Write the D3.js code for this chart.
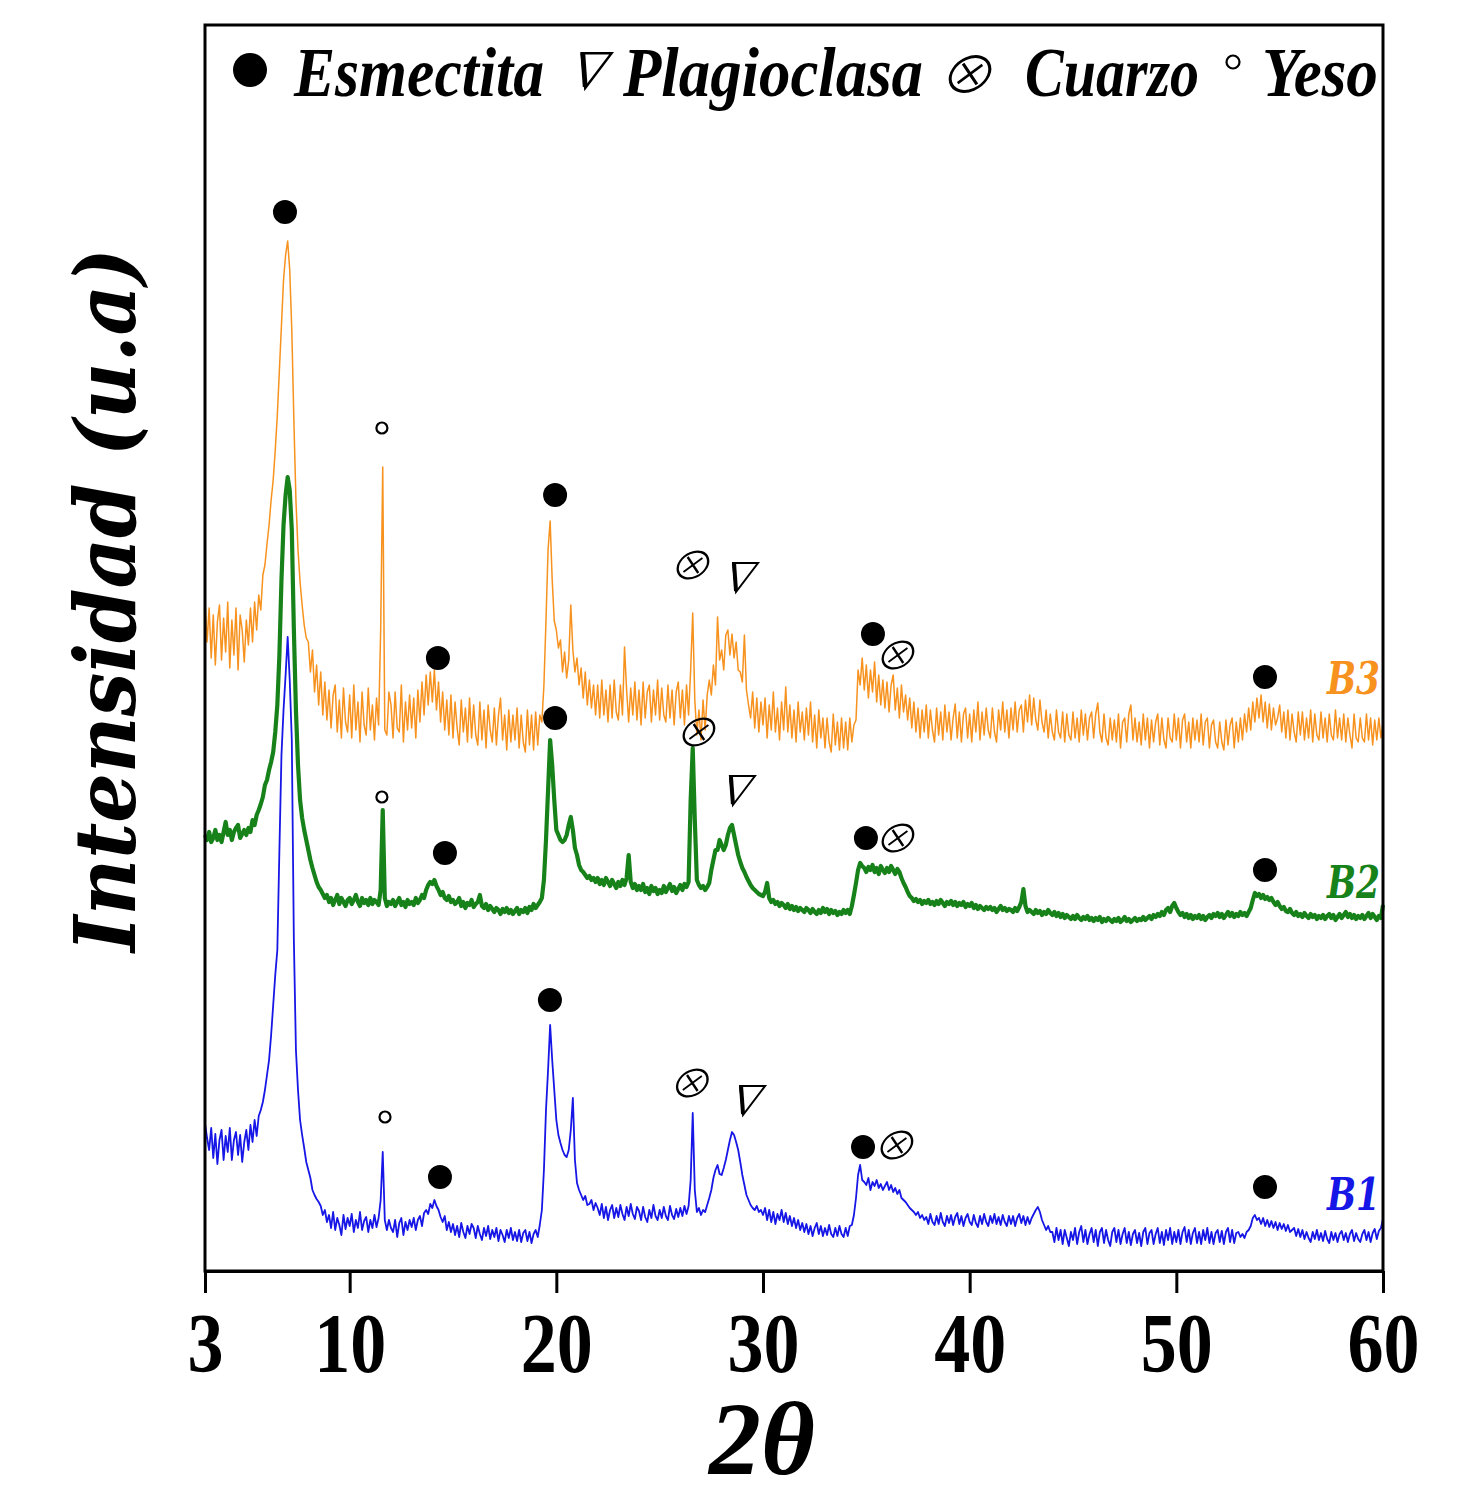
<!DOCTYPE html>
<html>
<head>
<meta charset="utf-8">
<script src="https://cdn.jsdelivr.net/npm/d3@7"></script>
<style>
  body { margin: 0; background: #fff; }
</style>
</head>
<body>
<div id="chart"></div>
<script>
// scan: 2theta start and step, one intensity per step
var thetaStart = 3;
var thetaStep = 0.1;

var b3Values = [
  670, 628, 662, 612, 655, 605, 648, 665, 610, 652,
  618, 668, 602, 650, 615, 662, 600, 655, 640, 608,
  650, 625, 662, 628, 668, 640, 675, 660, 695, 705,
  726, 745, 770, 790, 820, 855, 900, 945, 990, 1015,
  1029, 1000, 940, 850, 770, 720, 688, 665, 645, 632,
  628, 598, 620, 578, 605, 565, 598, 555, 588, 550,
  580, 542, 575, 585, 538, 570, 532, 582, 548, 538,
  575, 532, 585, 540, 568, 528, 578, 545, 535, 582,
  540, 565, 530, 572, 545, 640, 803, 540, 535, 578,
  565, 532, 578, 542, 538, 585, 528, 568, 540, 575,
  542, 572, 532, 580, 548, 588, 555, 595, 565, 598,
  568, 600, 560, 588, 548, 578, 540, 570, 535, 575,
  532, 568, 542, 525, 570, 538, 562, 528, 572, 532,
  565, 535, 525, 568, 530, 560, 522, 565, 540, 528,
  562, 525, 555, 572, 530, 555, 520, 560, 528, 555,
  530, 562, 522, 555, 528, 518, 560, 525, 555, 520,
  558, 525, 555, 548, 585, 650, 720, 749, 690, 649,
  640, 622, 630, 598, 618, 592, 610, 665, 620, 598,
  612, 585, 602, 572, 598, 565, 590, 562, 585, 555,
  585, 552, 590, 555, 580, 548, 585, 552, 590, 558,
  550, 585, 555, 623, 580, 548, 582, 555, 588, 550,
  580, 545, 588, 552, 578, 585, 548, 580, 555, 590,
  550, 582, 555, 548, 585, 552, 580, 545, 578, 588,
  552, 580, 545, 585, 555, 600, 657, 570, 535, 560,
  530, 570, 540, 575, 590, 575, 605, 585, 653, 610,
  620, 600, 635, 640, 615, 636, 612, 628, 600, 598,
  588, 635, 580, 565, 552, 578, 542, 572, 538, 568,
  545, 572, 532, 565, 540, 578, 538, 562, 530, 568,
  540, 583, 538, 565, 532, 560, 528, 568, 538, 558,
  530, 562, 535, 568, 528, 555, 522, 560, 532, 552,
  522, 552, 528, 518, 556, 525, 548, 520, 552, 522,
  548, 520, 552, 528, 545, 550, 600, 585, 612, 580,
  605, 572, 600, 578, 608, 568, 595, 565, 590, 562,
  588, 558, 585, 595, 560, 582, 552, 585, 558, 575,
  550, 572, 542, 568, 538, 562, 532, 560, 538, 565,
  532, 560, 540, 528, 562, 535, 558, 530, 565, 538,
  558, 530, 552, 566, 532, 558, 528, 556, 562, 532,
  556, 528, 560, 538, 568, 530, 558, 535, 562, 540,
  532, 562, 538, 528, 560, 540, 568, 538, 560, 532,
  562, 540, 568, 538, 560, 565, 538, 570, 548, 575,
  545, 572, 550, 540, 570, 548, 538, 560, 532, 556,
  538, 530, 560, 538, 532, 558, 528, 556, 535, 530,
  558, 532, 552, 528, 560, 535, 556, 530, 552, 558,
  532, 556, 567, 538, 528, 556, 532, 525, 552, 530,
  550, 528, 556, 522, 548, 552, 528, 556, 565, 530,
  552, 528, 548, 525, 556, 530, 552, 522, 550, 528,
  548, 556, 525, 552, 530, 522, 552, 532, 528, 556,
  530, 552, 522, 550, 556, 528, 548, 522, 552, 530,
  550, 528, 556, 525, 548, 552, 522, 545, 550, 528,
  522, 548, 528, 520, 550, 525, 545, 552, 522, 548,
  528, 552, 530, 556, 538, 562, 540, 568, 548, 572,
  552, 575, 548, 568, 542, 566, 540, 562, 545, 552,
  565, 538, 558, 532, 560, 530, 556, 538, 528, 558,
  535, 558, 530, 552, 532, 560, 528, 556, 535, 530,
  558, 532, 552, 528, 556, 535, 530, 560, 532, 552,
  530, 556, 528, 552, 535, 522, 556, 532, 528, 552,
  532, 528, 556, 530, 552, 525, 550, 530, 552, 532,
  548
];

var b2Values = [
  435, 430, 438, 428, 432, 440, 430, 435, 428, 438,
  448, 435, 440, 430, 438, 442, 445, 432, 436, 440,
  435, 442, 438, 450, 445, 455, 460, 466, 473, 485,
  490, 500, 508, 518, 538, 565, 615, 690, 745, 775,
  793, 780, 740, 640, 560, 505, 470, 452, 440, 430,
  420, 410, 402, 395, 388, 383, 380, 376, 372, 375,
  368, 372, 365, 370, 375, 366, 372, 368, 364, 370,
  372, 366, 370, 375, 368, 364, 372, 367, 370, 365,
  372, 366, 370, 368, 365, 380, 460, 372, 364, 368,
  366, 370, 364, 368, 372, 365, 368, 363, 370, 366,
  368, 365, 372, 367, 370, 375, 372, 380, 385, 388,
  386, 390, 384, 380, 375, 378, 372, 370, 374, 368,
  370, 366, 368, 372, 364, 368, 362, 367, 365, 370,
  363, 366, 368, 375, 364, 362, 366, 360, 364, 361,
  358, 362, 360, 356, 361, 358, 362, 357, 360, 356,
  359, 362, 356, 360, 358, 362, 357, 363, 360, 366,
  362, 365, 368, 372, 390, 430, 480, 530, 505, 470,
  440, 435, 430, 428, 430, 435, 445, 453, 440, 422,
  415, 405, 400, 398, 395, 392, 394, 390, 392, 388,
  392, 386, 390, 385, 392, 388, 384, 390, 386, 382,
  388, 384, 390, 385, 392, 415, 388, 382, 386, 380,
  384, 380, 386, 378, 382, 376, 384, 379, 382, 376,
  380, 377, 384, 378, 382, 386, 379, 383, 377, 381,
  385, 380, 386, 383, 388, 470, 522, 450, 390, 385,
  382, 384, 380, 383, 387, 400, 410, 420, 420, 430,
  425, 420, 425, 435, 442, 445, 435, 425, 415, 408,
  402, 398, 393, 389, 385, 382, 380, 378, 376, 375,
  374, 378, 387, 372, 368, 370, 366, 368, 364, 367,
  365, 362, 366, 361, 364, 360, 363, 359, 362, 360,
  358, 362, 360, 357, 361, 358, 356, 360, 357, 362,
  358, 361, 356, 360, 357, 359, 355, 358, 356, 360,
  357, 360, 356, 364, 375, 387, 400, 407, 404, 402,
  398, 403, 400, 405, 398, 402, 396, 404, 400, 397,
  402, 398, 404, 400, 396, 401, 398, 392, 387, 383,
  378, 374, 372, 369, 371, 368, 370, 366, 369, 367,
  370, 366, 368, 365, 369, 366, 370, 367, 364, 368,
  366, 369, 365, 368, 364, 367, 365, 368, 363, 366,
  364, 367, 362, 365, 361, 364, 362, 360, 363, 361,
  363, 360, 362, 358, 361, 364, 360, 362, 359, 361,
  360, 358, 362, 359, 363, 368, 381, 364, 358, 360,
  358, 356, 360, 357, 359, 355, 358, 356, 360, 357,
  355, 358, 354, 357, 353, 356, 352, 355, 353, 351,
  354, 351, 355, 352, 350, 353, 351, 354, 350, 352,
  349, 352, 350, 353, 348, 351, 349, 352, 350, 348,
  351, 349, 352, 348, 350, 353, 349, 351, 348, 350,
  352, 349, 351, 350, 353, 350, 352, 354, 351, 355,
  353, 356, 354, 358, 355, 360, 362, 358, 364, 367,
  362, 358, 355, 357, 353, 356, 352, 355, 351, 354,
  352, 355, 351, 354, 350, 353, 355, 352, 356, 354,
  357, 353, 356, 352, 355, 358, 354, 357, 353, 356,
  354, 358, 355, 357, 354, 358, 362, 370, 377, 374,
  376, 372, 375, 371, 373, 370, 372, 368, 365, 368,
  364, 361, 363, 359, 358, 361, 357, 355, 358, 354,
  356, 353, 357, 354, 352, 356, 353, 355, 351, 354,
  352, 355, 351, 354, 356, 352, 355, 350, 353, 356,
  352, 355, 358, 353, 356, 352, 355, 351, 354, 352,
  355, 351, 354, 357, 352, 356, 353, 350, 354, 352,
  365
];

var b1Values = [
  147, 132, 120, 142, 112, 136, 106, 130, 140, 110,
  134, 118, 142, 110, 130, 138, 115, 135, 108, 128,
  140, 120, 145, 128, 150, 134, 154, 160, 168, 180,
  195, 210, 235, 265, 295, 320, 420, 515, 560, 595,
  633, 590, 530, 330, 220, 180, 150, 135, 122, 108,
  100, 92, 80, 75, 71, 68, 64, 55, 60, 48,
  55, 42, 58, 40, 52, 45, 35, 55, 41, 52,
  44, 56, 38, 50, 42, 58, 40, 49, 53, 38,
  50, 42, 55, 43, 52, 70, 118, 50, 40, 50,
  42, 38, 50, 33, 47, 52, 35, 48, 40, 50,
  43, 52, 40, 50, 54, 44, 57, 60, 56, 66,
  62, 70, 64, 60, 53, 48, 54, 40, 48, 38,
  46, 35, 44, 33, 47, 38, 32, 44, 36, 46,
  42, 32, 44, 36, 30, 42, 34, 44, 31, 40,
  33, 42, 29, 40, 35, 28, 40, 32, 42, 30,
  38, 29, 40, 28, 37, 40, 29, 38, 27, 36,
  40, 33, 45, 60, 100, 160, 200, 245, 210, 180,
  150, 135, 127, 120, 115, 113, 120, 140, 172, 110,
  87, 80, 75, 70, 74, 65, 66, 70, 60, 67,
  62, 55, 66, 52, 63, 50, 60, 65, 52, 62,
  53, 65, 56, 50, 63, 54, 66, 56, 51, 63,
  59, 50, 63, 53, 48, 60, 52, 65, 54, 50,
  60, 52, 63, 54, 50, 64, 55, 51, 61, 53,
  62, 54, 64, 56, 64, 90, 157, 80, 58, 62,
  55, 60, 58, 65, 72, 80, 92, 100, 105, 96,
  95, 102, 110, 120, 130, 138, 135, 128, 120, 108,
  95, 85, 75, 70, 65, 62, 60, 64, 58, 60,
  55, 62, 50, 60, 48, 58, 46, 56, 50, 60,
  48, 57, 46, 54, 44, 52, 42, 50, 40, 47,
  38, 46, 36, 44, 34, 42, 47, 36, 44, 34,
  42, 35, 45, 36, 33, 42, 34, 44, 36, 33,
  42, 34, 44, 45, 55, 72, 95, 105, 90, 88,
  85, 92, 80, 88, 84, 90, 82, 86, 80, 84,
  88, 80, 85, 78, 82, 76, 80, 72, 70, 68,
  65, 62, 60, 58, 55, 58, 52, 55, 50, 53,
  46, 56, 48, 45, 54, 46, 57, 48, 44, 54,
  47, 55, 45, 53, 57, 46, 54, 44, 52, 56,
  48, 45, 55, 47, 43, 54, 46, 56, 48, 44,
  54, 47, 56, 46, 53, 45, 55, 48, 44, 54,
  46, 54, 44, 52, 56, 47, 54, 45, 53, 46,
  52, 56, 60, 63, 58, 50, 45, 40, 44, 38,
  38, 28, 42, 30, 40, 26, 40, 32, 24, 38,
  30, 42, 26, 38, 44, 28, 40, 26, 36, 42,
  28, 40, 24, 38, 42, 27, 40, 30, 24, 38,
  42, 28, 40, 26, 36, 42, 27, 38, 25, 36,
  40, 27, 37, 24, 38, 42, 26, 37, 40, 26,
  36, 42, 27, 38, 25, 40, 30, 42, 26, 38,
  28, 40, 26, 38, 43, 28, 40, 26, 37, 42,
  27, 38, 26, 40, 30, 42, 27, 38, 26, 37,
  40, 28, 39, 26, 38, 42, 28, 40, 27, 37,
  38, 33, 36, 32, 38, 40, 44, 52, 55, 50,
  52, 46, 52, 44, 50, 43, 49, 42, 48, 40,
  47, 41, 46, 39, 45, 38, 40, 42, 34, 41,
  33, 40, 31, 38, 32, 28, 38, 31, 40, 30,
  37, 29, 39, 31, 27, 38, 30, 37, 28, 36,
  39, 30, 37, 28, 36, 40, 29, 37, 31, 28,
  36, 40, 30, 38, 28, 37, 41, 31, 39, 42,
  51
];

var seriesNames = ["B3", "B2", "B1"];
var tickValues = [3, 10, 20, 30, 40, 50, 60];
var legendNames = ["Esmectita", "Plagioclasa", "Cuarzo", "Yeso"];

// peak marks [2theta, intensity]
var esmectitaPeaks = [[6.87, 1058], [19.94, 775], [14.27, 612], [35.32, 636], [54.29, 593],
  [19.94, 552], [14.61, 417], [34.98, 432], [54.29, 400],
  [19.69, 270], [14.37, 93], [34.84, 123], [54.29, 83]];
var yesoPeaks = [[11.56, 842], [11.56, 473], [11.71, 153]];
var cuarzoPeaks = [[26.61, 705], [36.53, 615], [26.9, 538], [36.53, 432], [26.58, 187], [36.48, 125]];
var plagioclasaPeaks = [[29.13, 693], [28.98, 480], [29.47, 170]];

var width = 1478, height = 1489;
var frame = {left: 205, right: 1383, top: 25, bottom: 1271};

var svg = d3.select("#chart").append("svg")
    .attr("width", width)
    .attr("height", height);

var x = d3.scaleLinear().domain([3, 60]).range([frame.left, frame.right]);
var y = d3.scaleLinear().domain([0, 1245]).range([1270, 25]);

function theta(i) { return thetaStart + i * thetaStep; }

var line = d3.line()
    .x((d, i) => x(theta(i)))
    .y(d => y(d));

var series = [
  {name: seriesNames[0], values: b3Values, color: "#F7921E", stroke: 1.5, labelY: 576},
  {name: seriesNames[1], values: b2Values, color: "#17821A", stroke: 4.2, labelY: 372},
  {name: seriesNames[2], values: b1Values, color: "#1616E6", stroke: 1.8, labelY: 60}
];

svg.selectAll("path.trace")
    .data(series)
    .enter()
    .append("path")
    .attr("class", "trace")
    .attr("d", d => line(d.values))
    .attr("fill", "none")
    .attr("stroke", d => d.color)
    .attr("stroke-width", d => d.stroke)
    .attr("stroke-linejoin", "round");

svg.selectAll("text.seriesLabel")
    .data(series)
    .enter()
    .append("text")
    .attr("class", "seriesLabel")
    .attr("x", x(60) - 3)
    .attr("y", d => y(d.labelY))
    .attr("text-anchor", "end")
    .attr("font-family", "DejaVu Serif")
    .attr("font-weight", "bold")
    .attr("font-style", "italic")
    .attr("font-size", 44)
    .attr("textLength", 53)
    .attr("lengthAdjust", "spacingAndGlyphs")
    .attr("fill", d => d.color)
    .text(d => d.name);

// symbol shapes
function drawEsmectita(sel, r) {
  sel.append("circle").attr("r", r).attr("fill", "#000");
}
function drawYeso(sel, r) {
  sel.append("circle").attr("r", r).attr("fill", "none").attr("stroke", "#000").attr("stroke-width", 2.2);
}
function drawCuarzo(sel) {
  var g = sel.append("g").attr("transform", "skewX(-12)");
  g.append("ellipse").attr("rx", 15).attr("ry", 13).attr("transform", "rotate(-25)")
    .attr("fill", "none").attr("stroke", "#000").attr("stroke-width", 2.3);
  g.append("path").attr("d", "M-7,-8L7,8M-8,7L8,-7")
    .attr("stroke", "#000").attr("stroke-width", 2.2);
}
function drawPlagioclasa(sel) {
  sel.append("path").attr("d", "M-12,-14L13,-14L-9,15Z")
    .attr("fill", "none").attr("stroke", "#000").attr("stroke-width", 2).attr("stroke-linejoin", "miter");
  sel.append("path").attr("d", "M-11,-14L-9,14")
    .attr("stroke", "#000").attr("stroke-width", 4);
}

var marks = svg.append("g").attr("class", "marks");

marks.selectAll("g.esm").data(esmectitaPeaks).enter().append("g").attr("class", "esm")
    .attr("transform", d => `translate(${x(d[0])},${y(d[1])})`)
    .each(function() { drawEsmectita(d3.select(this), 12); });

marks.selectAll("g.yeso").data(yesoPeaks).enter().append("g").attr("class", "yeso")
    .attr("transform", d => `translate(${x(d[0])},${y(d[1])})`)
    .each(function() { drawYeso(d3.select(this), 5.5); });

marks.selectAll("g.cuarzo").data(cuarzoPeaks).enter().append("g").attr("class", "cuarzo")
    .attr("transform", d => `translate(${x(d[0])},${y(d[1])})`)
    .each(function() { drawCuarzo(d3.select(this)); });

marks.selectAll("g.plag").data(plagioclasaPeaks).enter().append("g").attr("class", "plag")
    .attr("transform", d => `translate(${x(d[0])},${y(d[1])})`)
    .each(function() { drawPlagioclasa(d3.select(this)); });

// legend inside the frame
var legend = svg.append("g").attr("class", "legend");
var legendSlots = [
  {sx: 250, sy: 70, tx: 294, tw: 250},
  {sx: 596, sy: 70, tx: 623, tw: 300},
  {sx: 970, sy: 74, tx: 1025, tw: 174},
  {sx: 1233, sy: 62, tx: 1262, tw: 116}
];
var legendDraw = [
  s => drawEsmectita(s, 17),
  s => { s.attr("transform", "translate(596,70) scale(1.2)"); drawPlagioclasa(s); },
  s => { s.attr("transform", "translate(970,74) scale(1.3)"); drawCuarzo(s); },
  s => drawYeso(s, 6.5)
];
legendNames.forEach(function(name, i) {
  var slot = legendSlots[i];
  var s = legend.append("g").attr("transform", `translate(${slot.sx},${slot.sy})`);
  legendDraw[i](s);
  legend.append("text")
      .attr("x", slot.tx)
      .attr("y", 96)
      .attr("font-family", "Liberation Serif")
      .attr("font-weight", "bold")
      .attr("font-style", "italic")
      .attr("font-size", 70)
      .attr("textLength", slot.tw)
      .attr("lengthAdjust", "spacingAndGlyphs")
      .text(name);
});

// frame + bottom axis
svg.append("rect")
    .attr("x", frame.left)
    .attr("y", frame.top)
    .attr("width", frame.right - frame.left)
    .attr("height", frame.bottom - frame.top)
    .attr("fill", "none")
    .attr("stroke", "#000")
    .attr("stroke-width", 3);

var xAxis = d3.axisBottom(x)
    .tickValues(tickValues)
    .tickSize(22)
    .tickSizeOuter(0)
    .tickFormat(d3.format("d"));

var gx = svg.append("g")
    .attr("class", "axis")
    .attr("transform", `translate(0,${frame.bottom})`)
    .call(xAxis);

gx.select(".domain").attr("stroke-width", 3);
gx.selectAll(".tick line").attr("stroke-width", 3);
gx.selectAll(".tick text")
    .attr("y", 101)
    .attr("dy", null)
    .attr("fill", "#000")
    .attr("font-family", "Liberation Serif")
    .attr("font-weight", "bold")
    .attr("font-size", 84)
    .attr("textLength", d => String(d).length * 36)
    .attr("lengthAdjust", "spacingAndGlyphs");

svg.append("text")
    .attr("x", 762)
    .attr("y", 1474)
    .attr("text-anchor", "middle")
    .attr("font-family", "Liberation Serif")
    .attr("font-style", "italic")
    .attr("font-weight", "bold")
    .attr("font-size", 104)
    .text("2θ");

svg.append("text")
    .attr("transform", "translate(135,600) rotate(-90)")
    .attr("text-anchor", "middle")
    .attr("font-family", "DejaVu Serif")
    .attr("font-style", "italic")
    .attr("font-weight", "bold")
    .attr("font-size", 84)
    .attr("textLength", 704)
    .attr("lengthAdjust", "spacingAndGlyphs")
    .text("Intensidad (u.a)");
</script>
</body>
</html>
